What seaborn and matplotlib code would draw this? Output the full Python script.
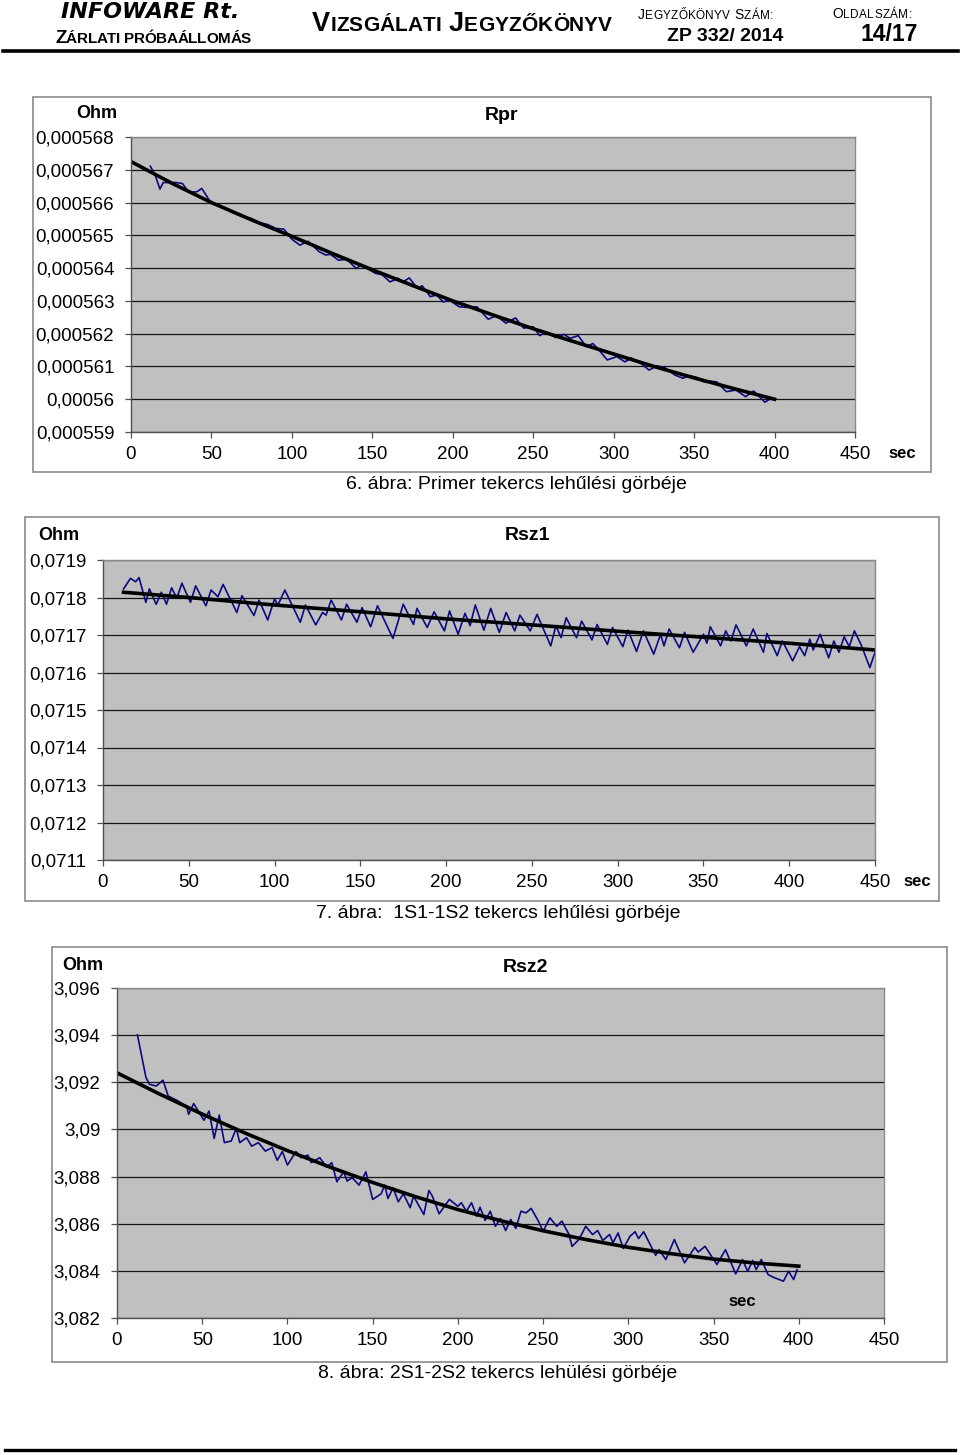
import pandas as pd
import seaborn as sns
import matplotlib.pyplot as plt
from matplotlib.patches import Rectangle
from matplotlib.lines import Line2D

W, H = 960, 1455

# Rpr - primer tekercs (Ohm)
rpr_t = [12, 15, 18, 20, 28, 32, 36, 41, 44, 50, 56, 62, 68, 75, 80, 85, 90, 95, 100,
         105, 110, 117, 121, 124, 129, 134, 140, 143, 152, 156, 161, 166, 169, 173, 178,
         181, 186, 190, 194, 198, 204, 209, 215, 222, 227, 233, 239, 244, 250, 254, 258,
         264, 269, 273, 278, 283, 287, 290, 296, 302, 307, 311, 317, 322, 327, 332, 338,
         343, 347, 352, 356, 360, 364, 370, 376, 382, 387, 394, 397]
rpr_ohm = [0.00056711, 0.00056684, 0.00056641, 0.00056661, 0.00056661, 0.00056658,
           0.00056631, 0.00056633, 0.00056643, 0.00056597, 0.00056587, 0.00056572,
           0.00056560, 0.00056551, 0.00056538, 0.00056533, 0.00056521, 0.00056519,
           0.00056488, 0.00056470, 0.00056482, 0.00056450, 0.00056440, 0.00056442,
           0.00056424, 0.00056427, 0.00056399, 0.00056409, 0.00056384, 0.00056380,
           0.00056358, 0.00056369, 0.00056358, 0.00056370, 0.00056338, 0.00056346,
           0.00056313, 0.00056318, 0.00056297, 0.00056302, 0.00056282, 0.00056280,
           0.00056282, 0.00056244, 0.00056255, 0.00056232, 0.00056248, 0.00056217,
           0.00056221, 0.00056194, 0.00056205, 0.00056188, 0.00056198, 0.00056186,
           0.00056194, 0.00056160, 0.00056170, 0.00056155, 0.00056120, 0.00056130,
           0.00056114, 0.00056126, 0.00056109, 0.00056089, 0.00056102, 0.00056096,
           0.00056074, 0.00056064, 0.00056072, 0.00056066, 0.00056053, 0.00056055,
           0.00056053, 0.00056023, 0.00056028, 0.00056008, 0.00056025, 0.00055991,
           0.00056000]
rpr_fit_t = [0, 25, 50, 75, 100, 125, 150, 175, 200, 225, 250, 275, 300, 325, 350, 375, 400]
rpr_fit_ohm = [0.00056725, 0.0005666, 0.000566, 0.00056547, 0.00056497, 0.00056445,
               0.00056395, 0.00056347, 0.000563, 0.00056257, 0.00056215, 0.00056176,
               0.00056138, 0.000561, 0.00056065, 0.00056032, 0.00056]
rpr_yticks = [0.000559, 0.000560, 0.000561, 0.000562, 0.000563, 0.000564, 0.000565,
              0.000566, 0.000567, 0.000568]
rpr_ylabels = ['0,000559', '0,00056', '0,000561', '0,000562', '0,000563', '0,000564',
               '0,000565', '0,000566', '0,000567', '0,000568']

# Rsz1 - 1S1-1S2 tekercs (Ohm)
rsz1_t = [12, 16, 19, 21, 25, 27, 31, 34, 37, 40, 43, 46, 51, 54, 60, 63, 67, 70, 78, 81,
          88, 91, 96, 100, 102, 106, 115, 118, 124, 128, 130, 133, 139, 142, 148, 151, 156,
          160, 169, 175, 181, 183, 189, 193, 199, 202, 207, 211, 214, 217, 222, 226, 231,
          235, 240, 243, 249, 253, 261, 264, 267, 270, 276, 279, 285, 288, 294, 297, 303,
          306, 311, 315, 321, 325, 327, 330, 336, 339, 344, 350, 352, 354, 360, 363, 366,
          369, 375, 379, 385, 387, 393, 396, 402, 406, 409, 412, 414, 418, 423, 426, 429,
          432, 435, 438, 442, 447, 450]
rsz1_ohm = [0.071823, 0.071851, 0.071842, 0.071853, 0.071787, 0.071823, 0.071782, 0.071814,
            0.071782, 0.071826, 0.071798, 0.071838, 0.071787, 0.071831, 0.071778, 0.071820,
            0.071802, 0.071835, 0.071760, 0.071805, 0.071752, 0.071793, 0.071740, 0.071796,
            0.071780, 0.071820, 0.071734, 0.071780, 0.071727, 0.071760, 0.071753, 0.071793,
            0.071740, 0.071782, 0.071734, 0.071773, 0.071722, 0.071778, 0.071691, 0.071782,
            0.071728, 0.071771, 0.071720, 0.071762, 0.071711, 0.071764, 0.071702, 0.071758,
            0.071725, 0.071780, 0.071713, 0.071771, 0.071707, 0.071760, 0.071711, 0.071753,
            0.071711, 0.071755, 0.071671, 0.071725, 0.071693, 0.071746, 0.071693, 0.071737,
            0.071687, 0.071728, 0.071675, 0.071720, 0.071669, 0.071713, 0.071656, 0.071711,
            0.071649, 0.071702, 0.071671, 0.071716, 0.071666, 0.071707, 0.071654, 0.071702,
            0.071678, 0.071722, 0.071671, 0.071711, 0.071684, 0.071727, 0.071671, 0.071716,
            0.071654, 0.071704, 0.071645, 0.071684, 0.071631, 0.071669, 0.071645, 0.071689,
            0.071660, 0.071702, 0.071639, 0.071684, 0.071654, 0.071695, 0.071669, 0.071711,
            0.071673, 0.071613, 0.071654]
rsz1_fit_t = [12, 50, 100, 150, 200, 250, 300, 350, 400, 450]
rsz1_fit_ohm = [0.071814, 0.0718, 0.07178, 0.071762, 0.071743, 0.071727, 0.07171,
                0.071694, 0.071678, 0.07166]
rsz1_yticks = [0.0711, 0.0712, 0.0713, 0.0714, 0.0715, 0.0716, 0.0717, 0.0718, 0.0719]
rsz1_ylabels = ['0,0711', '0,0712', '0,0713', '0,0714', '0,0715', '0,0716', '0,0717',
                '0,0718', '0,0719']

# Rsz2 - 2S1-2S2 tekercs (Ohm)
rsz2_t = [12, 17, 19, 23, 27, 30, 36, 41, 42, 45, 51, 54, 57, 60, 63, 67, 70, 72, 76, 79,
          83, 87, 91, 94, 97, 100, 105, 108, 112, 114, 119, 123, 126, 129, 133, 135, 138,
          142, 146, 150, 155, 157, 159, 162, 165, 168, 172, 174, 180, 183, 185, 189, 195,
          200, 202, 205, 208, 211, 213, 216, 219, 222, 225, 228, 231, 234, 237, 240, 243,
          247, 250, 254, 258, 261, 265, 267, 271, 275, 279, 282, 285, 289, 291, 294, 297,
          301, 304, 306, 309, 316, 318, 322, 327, 333, 339, 341, 345, 352, 357, 363, 367,
          370, 373, 375, 378, 382, 385, 391, 394, 397, 399]
rsz2_ohm = [3.09401, 3.0922, 3.09192, 3.09184, 3.09209, 3.09142, 3.0912, 3.09095, 3.09064,
            3.0911, 3.09039, 3.09078, 3.08962, 3.09061, 3.08944, 3.08951, 3.09005, 3.08944,
            3.08965, 3.08929, 3.08944, 3.08908, 3.08923, 3.08869, 3.08906, 3.08849, 3.08906,
            3.0888, 3.08891, 3.08859, 3.0888, 3.0884, 3.08859, 3.08778, 3.0882, 3.08781,
            3.08795, 3.08764, 3.0882, 3.08703, 3.08727, 3.08764, 3.08707, 3.08753, 3.08693,
            3.08727, 3.08668, 3.08717, 3.08639, 3.08741, 3.08717, 3.08642, 3.08703, 3.08674,
            3.08689, 3.08653, 3.08689, 3.08632, 3.0867, 3.08614, 3.08653, 3.08589, 3.08622,
            3.08571, 3.08618, 3.0858, 3.08653, 3.08646, 3.08665, 3.08614, 3.08568, 3.08625,
            3.08589, 3.08611, 3.08557, 3.08504, 3.08533, 3.08589, 3.08554, 3.08571, 3.08529,
            3.08554, 3.08519, 3.08561, 3.08495, 3.08547, 3.08566, 3.08537, 3.08566, 3.08466,
            3.0849, 3.08448, 3.08533, 3.08434, 3.085, 3.0848, 3.08504, 3.08427, 3.0849,
            3.08387, 3.08448, 3.08398, 3.08444, 3.08405, 3.08448, 3.08384, 3.08373, 3.08356,
            3.08398, 3.08363, 3.08405]
rsz2_fit_t = [0, 25, 50, 75, 100, 125, 150, 175, 200, 225, 250, 275, 300, 325, 350, 375, 400]
rsz2_fit_ohm = [3.0924, 3.0915, 3.09065, 3.08985, 3.0891, 3.0884, 3.08775, 3.08715, 3.0866,
                3.08613, 3.0857, 3.08533, 3.085, 3.08473, 3.0845, 3.08433, 3.0842]
rsz2_yticks = [3.082, 3.084, 3.086, 3.088, 3.090, 3.092, 3.094, 3.096]
rsz2_ylabels = ['3,082', '3,084', '3,086', '3,088', '3,09', '3,092', '3,094', '3,096']

sec_ticks = [0, 50, 100, 150, 200, 250, 300, 350, 400, 450]

FONT = 'Liberation Sans'
plt.rcParams['font.family'] = [FONT, 'DejaVu Sans']

fig = plt.figure(figsize=(W / 100, H / 100), dpi=100)
renderer = fig.canvas.get_renderer()


def fx(x):
    return x / W


def fy(y):
    return 1 - y / H


def ftext(x, y, s, size, **kw):
    return fig.text(fx(x), fy(y), s, fontsize=size, ha=kw.pop('ha', 'center'),
                    va=kw.pop('va', 'center'), **kw)


def hline(x0, x1, y, lw):
    fig.add_artist(Line2D([fx(x0), fx(x1)], [fy(y), fy(y)], color='black', lw=lw,
                          transform=fig.transFigure))


def small_caps(x0, x1, base, parts, weight='bold'):
    # letters spread evenly between x0 and x1, sitting on one baseline
    chars = [(c, size) for s, size in parts for c in s]
    widths = []
    for c, size in chars:
        if c == ' ':
            widths.append(0.28 * size * 100 / 72)
            continue
        t = fig.text(0, 0, c, fontsize=size, fontweight=weight)
        widths.append(t.get_window_extent(renderer).width)
        t.remove()
    gap = (x1 - x0 - sum(widths)) / (len(chars) - 1)
    x = x0
    for (c, size), w in zip(chars, widths):
        if c != ' ':
            ftext(x, base, c, size, ha='left', va='baseline', fontweight=weight)
        x += w + gap


def chart(frame, plot, t, ohm, fit_t, fit_ohm, yticks, ylabels, title, ohm_xy, title_xy,
          sec_xy, caption, cap_xy):
    fl, ft, fr, fb = frame
    fig.add_artist(Rectangle((fx(fl), fy(fb)), (fr - fl) / W, (fb - ft) / H,
                             transform=fig.transFigure, fill=False, ec='#8a8a8a', lw=1.2))
    l, t_, r, b = plot
    ax = fig.add_axes([fx(l), fy(b), (r - l) / W, (b - t_) / H])
    ax.set_facecolor('#c0c0c0')
    df = pd.DataFrame({'sec': t, 'ohm': ohm})
    fit = pd.DataFrame({'sec': fit_t, 'ohm': fit_ohm})
    sns.lineplot(data=df, x='sec', y='ohm', ax=ax, color='#0a0a80', lw=1.2,
                 estimator=None, sort=False)
    sns.lineplot(data=fit, x='sec', y='ohm', ax=ax, color='black', lw=2.6,
                 estimator=None, sort=False)
    ax.set_xlim(0, 450)
    ax.set_ylim(yticks[0], yticks[-1])
    ax.set_xticks(sec_ticks)
    ax.set_xticklabels([str(v) for v in sec_ticks])
    ax.set_yticks(yticks)
    ax.set_yticklabels(ylabels)
    ax.set_xlabel('')
    ax.set_ylabel('')
    ax.yaxis.grid(True, color='#151515', lw=0.9)
    ax.set_axisbelow(True)
    for side in ['top', 'right']:
        ax.spines[side].set_color('#8a8a8a')
        ax.spines[side].set_linewidth(1.0)
    for side in ['left', 'bottom']:
        ax.spines[side].set_color('#505050')
        ax.spines[side].set_linewidth(1.0)
    ax.tick_params(axis='y', direction='out', length=4, width=0.9, color='#505050',
                   labelsize=13.5, pad=8)
    ax.tick_params(axis='x', direction='out', length=4, width=0.9, color='#505050',
                   labelsize=13.5, pad=6)
    ftext(*ohm_xy, 'Ohm', 13, fontweight='bold')
    ftext(*title_xy, title, 14, fontweight='bold')
    ftext(*sec_xy, 'sec', 12, fontweight='bold')
    ftext(*cap_xy, caption, 14)
    return ax


chart((33, 97, 931, 472), (131, 137, 855, 432), rpr_t, rpr_ohm, rpr_fit_t, rpr_fit_ohm,
      rpr_yticks, rpr_ylabels, 'Rpr', (97, 113), (501, 115), (902, 454),
      '6. ábra: Primer tekercs lehűlési görbéje', (516, 485))
chart((25, 517, 939, 901), (103, 560, 875, 860), rsz1_t, rsz1_ohm, rsz1_fit_t, rsz1_fit_ohm,
      rsz1_yticks, rsz1_ylabels, 'Rsz1', (59, 535), (527, 536), (917, 882),
      '7. ábra:  1S1-1S2 tekercs lehűlési görbéje', (498, 913))
chart((52, 947, 947, 1362), (117, 988, 884, 1318), rsz2_t, rsz2_ohm, rsz2_fit_t, rsz2_fit_ohm,
      rsz2_yticks, rsz2_ylabels, 'Rsz2', (83, 965), (525, 968), (742, 1301),
      '8. ábra: 2S1-2S2 tekercs lehülési görbéje', (498, 1373))

# page header
ftext(61, 18.5, 'INFOWARE Rt.', 16, ha='left', va='baseline', fontweight='bold',
      fontstyle='italic', family='DejaVu Sans')
small_caps(55, 251, 42.7, [('Z', 13.5), ('ÁRLATI PRÓBAÁLLOMÁS', 11)])
small_caps(312, 612, 30.7, [('V', 19.5), ('IZSGÁLATI', 15), (' J', 19.5), ('EGYZŐKÖNYV', 15)])
small_caps(638, 773, 19.3, [('J', 10), ('EGYZŐKÖNYV', 8.5), (' S', 10), ('ZÁM:', 8.5)],
           weight='normal')
small_caps(832, 912, 17.8, [('O', 10), ('LDALSZÁM:', 8.5)], weight='normal')
ftext(667, 40.7, 'ZP 332/ 2014', 14, ha='left', va='baseline', fontweight='bold')
ftext(860, 40.7, '14/17', 16.5, ha='left', va='baseline', fontweight='bold')
hline(3, 958, 50.5, 2.6)
hline(5, 955, 1450, 2.4)

fig.savefig('out.png', dpi=100)
